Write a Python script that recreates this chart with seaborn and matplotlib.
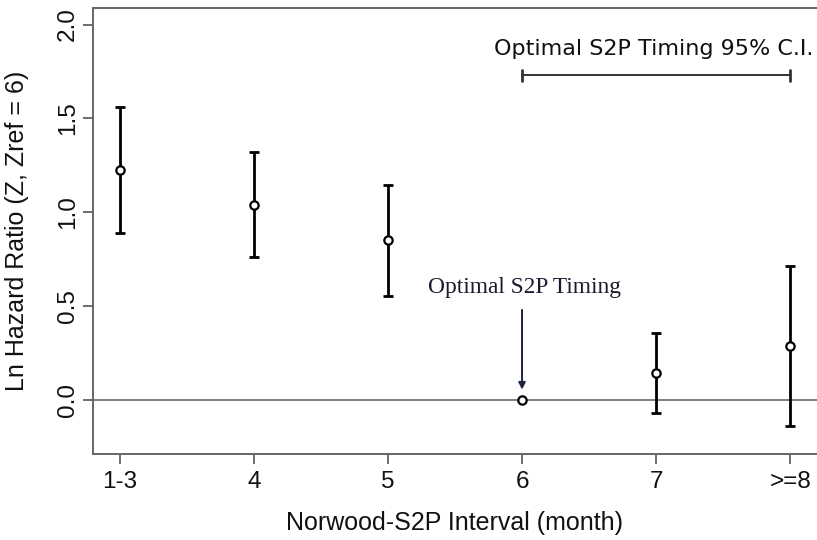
import matplotlib
matplotlib.use("Agg")
import matplotlib.pyplot as plt
import seaborn as sns
import numpy as np
import pandas as pd

categories = ["1-3", "4", "5", "6", "7", ">=8"]
estimate = [1.223, 1.037, 0.851, 0.0, 0.144, 0.287]
lower = [0.888, 0.761, 0.553, 0.0, -0.069, -0.138]
upper = [1.558, 1.319, 1.144, 0.0, 0.356, 0.713]
yticks = [0.0, 0.5, 1.0, 1.5, 2.0]
ytick_labels = ["0.0", "0.5", "1.0", "1.5", "2.0"]

sns.set_theme(style="white")
plt.rcParams['font.family'] = ['Liberation Sans', 'DejaVu Sans']
plt.rcParams['text.color'] = '#111111'
plt.rcParams['axes.labelcolor'] = '#111111'
plt.rcParams['xtick.color'] = '#555555'
plt.rcParams['ytick.color'] = '#555555'
plt.rcParams['xtick.labelcolor'] = '#111111'
plt.rcParams['ytick.labelcolor'] = '#111111'

df = pd.DataFrame({"pos": np.arange(len(categories)), "est": estimate,
                   "lo": lower, "hi": upper})

fig = plt.figure(figsize=(8.17, 5.40), dpi=100)
ax = fig.add_axes([93/817, 1-454/540, 1-93/817, (454-8)/540])

ax.axhline(0, color="#7f7f7f", lw=1.4, zorder=1)

ci = df[df["hi"] != df["lo"]]
ax.errorbar(ci["pos"], ci["est"],
            yerr=[ci["est"] - ci["lo"], ci["hi"] - ci["est"]],
            fmt="none", ecolor="black", elinewidth=2, capsize=3.5, capthick=2, zorder=2)
sns.scatterplot(data=df, x="pos", y="est", ax=ax, marker="o", s=36,
                facecolor="white", edgecolor="black", linewidth=1.6, zorder=3)

ax.set_xlim(-0.2, 5.2)
ax.set_ylim(-0.288, 2.088)
ax.set_xticks(df["pos"])
ax.set_xticklabels(categories, fontsize=17.5)
ax.set_yticks(yticks)
ax.set_yticklabels(ytick_labels, fontsize=17.5, rotation=90, va="center")
ax.tick_params(axis="both", direction="out", length=7, width=1.2,
               pad=5, left=True, bottom=True)
ax.tick_params(axis="y", pad=3)

for s in ["left", "bottom", "top"]:
    ax.spines[s].set_color("#666666")
    ax.spines[s].set_linewidth(1.4)
ax.spines["right"].set_visible(False)

ax.set_xlabel("Norwood-S2P Interval (month)", fontsize=18, labelpad=13)
ax.set_ylabel("Ln Hazard Ratio (Z, Zref = 6)", fontsize=18, labelpad=20)

# optimal CI bracket
ax.plot([3, 5], [1.73, 1.73], color="#333333", lw=1.4, zorder=2)
ax.plot([3, 3], [1.70, 1.76], color="#333333", lw=2, zorder=2)
ax.plot([5, 5], [1.70, 1.76], color="#333333", lw=2, zorder=2)
ax.text(3.98, 1.872, "Optimal S2P Timing 95% C.I.", ha="center", va="center",
        fontsize=16, family=["DejaVu Sans"], color="#111111")

# optimal timing annotation
ax.text(3.02, 0.60, "Optimal S2P Timing", ha="center", va="center",
        fontsize=16.8, family=["Liberation Serif"], color="#1a1a2e")
ax.annotate("", xy=(3, 0.055), xytext=(3, 0.48),
            arrowprops=dict(arrowstyle="-|>", color="#1c2340", lw=1.4,
                            mutation_scale=10, shrinkA=0, shrinkB=0))

fig.savefig("out.png", dpi=100)
